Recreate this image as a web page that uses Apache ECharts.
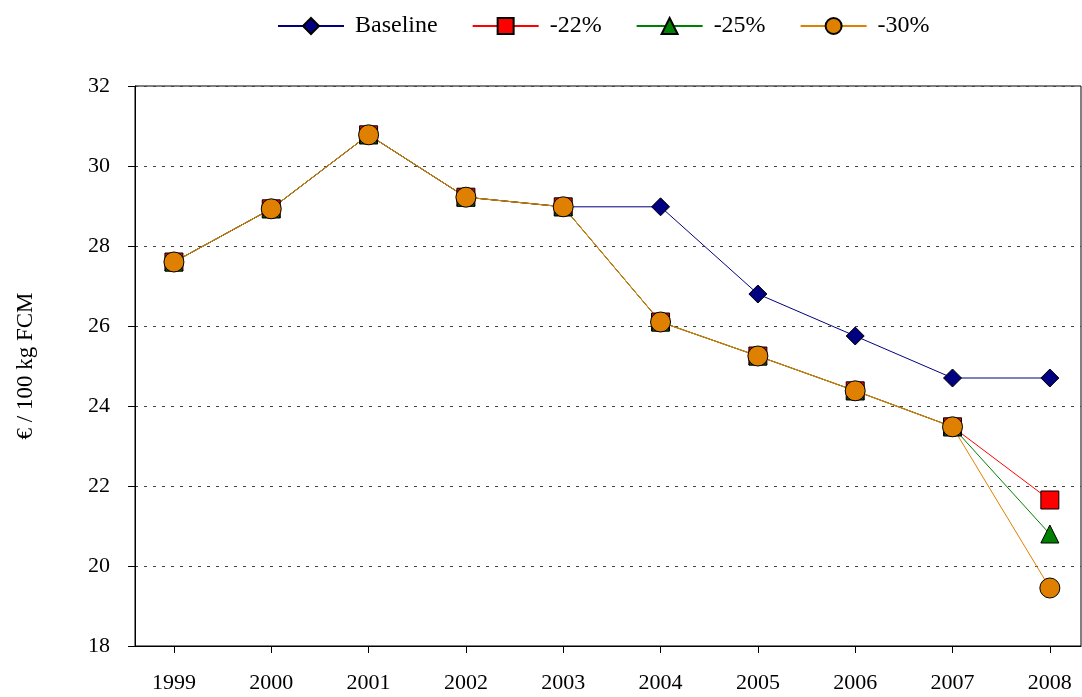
<!DOCTYPE html><html><head><meta charset="utf-8"><script src="https://cdn.jsdelivr.net/npm/echarts@6/dist/echarts.min.js"></script></head><body style="margin:0"><div id="c" style="width:1082px;height:697px"></div><script>
const years=[1999,2000,2001,2002,2003,2004,2005,2006,2007,2008];
const baseline=[27.6,28.93,30.78,29.22,28.98,28.98,26.8,25.75,24.7,24.7];
const m22=[27.6,28.93,30.78,29.22,28.98,26.1,25.25,24.38,23.48,21.65];
const m25=[27.6,28.93,30.78,29.22,28.98,26.1,25.25,24.38,23.48,20.8];
const m30=[27.6,28.93,30.78,29.22,28.98,26.1,25.25,24.38,23.48,19.45];
const yTicks=[18,20,22,24,26,28,30,32];
const font='Liberation Serif';
function s(name,data,color,symbol,size){return {name,type:'line',data:data.map((v,i)=>[years[i],v]),color,symbol,symbolSize:size,lineStyle:{width:1,color},itemStyle:{color,borderColor:'#000',borderWidth:1}};}
echarts.init(document.getElementById('c')).setOption({
animation:false,
textStyle:{fontFamily:font},
legend:{top:9,left:272,itemWidth:66,itemHeight:20,itemGap:34,textStyle:{fontFamily:font,fontSize:24,color:'#000',padding:[0,0,0,6]},data:['Baseline','-22%','-25%','-30%']},
grid:{left:135,top:86,width:946,height:560,show:true,borderColor:'#000',borderWidth:1},
xAxis:{type:'value',min:1998.6,max:2008.32,axisLine:{lineStyle:{color:'#000'}},splitLine:{show:false},
 axisTick:{customValues:years,length:7,lineStyle:{color:'#000'}},axisLabel:{customValues:years,formatter:v=>String(v),fontSize:22,color:'#000',fontFamily:font,margin:26}},
yAxis:{type:'value',min:18,max:32,interval:2,name:'€ / 100 kg FCM',nameLocation:'middle',nameGap:98,nameTextStyle:{fontSize:23,color:'#000',fontFamily:font},
 axisLine:{show:true,lineStyle:{color:'#000'}},axisTick:{show:true,length:7,lineStyle:{color:'#000'}},axisLabel:{fontSize:22,color:'#000',fontFamily:font,margin:25},
 splitLine:{lineStyle:{type:[3,6],color:'#444'}}},
series:[s('Baseline',baseline,'#000080','diamond',18),s('-22%',m22,'#ff0000','rect',18),s('-25%',m25,'#008000','triangle',18),s('-30%',m30,'#e08000','circle',20)]
});
</script></body></html>
